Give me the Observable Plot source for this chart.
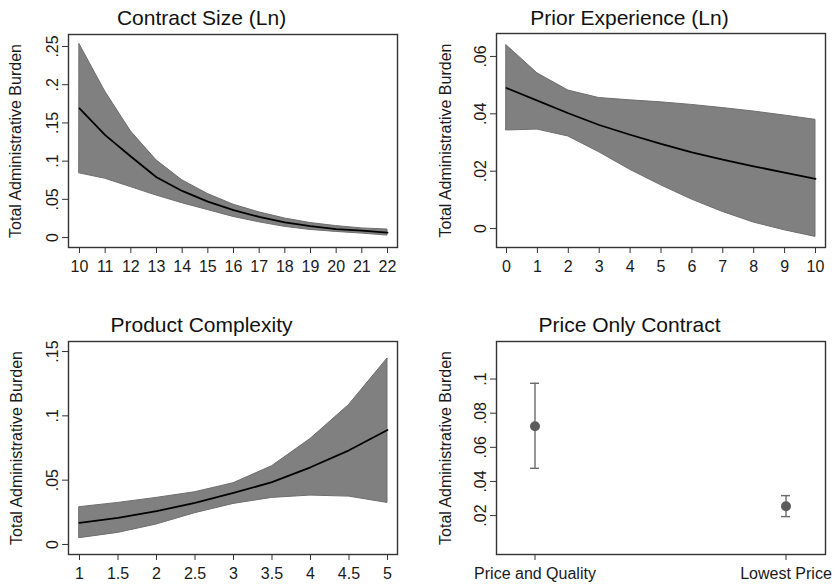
<!DOCTYPE html>
<html>
<head>
<meta charset="utf-8">
<script src="https://cdn.jsdelivr.net/npm/d3@7"></script>
<script src="https://cdn.jsdelivr.net/npm/@observablehq/plot@0.6"></script>
<style>
  html, body { margin: 0; padding: 0; background: #fff; }
  #wrap { position: relative; width: 836px; height: 585px; background: #fff; }
  .panel { position: absolute; }
</style>
</head>
<body>
<div id="wrap"></div>
<script>
// ---------- Data ----------
const yLabel = "Total Administrative Burden";

// Panel 1: Contract Size (Ln)
const sizeTitle = "Contract Size (Ln)";
const sizeX    = [10, 11, 12, 13, 14, 15, 16, 17, 18, 19, 20, 21, 22];
const sizeMean = [0.169, 0.134, 0.106, 0.079, 0.061, 0.047, 0.036, 0.027, 0.020, 0.015, 0.011, 0.009, 0.0065];
const sizeHi   = [0.253, 0.191, 0.139, 0.101, 0.075, 0.057, 0.043, 0.033, 0.025, 0.019, 0.015, 0.012, 0.0105];
const sizeLo   = [0.084, 0.077, 0.066, 0.055, 0.045, 0.036, 0.027, 0.020, 0.014, 0.010, 0.0074, 0.0052, 0.0026];
const sizeYTicks = [0, 0.05, 0.1, 0.15, 0.2, 0.25];
const sizeXTicks = [10, 11, 12, 13, 14, 15, 16, 17, 18, 19, 20, 21, 22];

// Panel 2: Prior Experience (Ln)
const expTitle = "Prior Experience (Ln)";
const expX    = [0, 1, 2, 3, 4, 5, 6, 7, 8, 9, 10];
const expMean = [0.0490, 0.0446, 0.0402, 0.0361, 0.0327, 0.0295, 0.0266, 0.0240, 0.0217, 0.0195, 0.0173];
const expHi   = [0.0639, 0.0541, 0.0481, 0.0455, 0.0447, 0.0440, 0.0431, 0.0420, 0.0408, 0.0394, 0.0379];
const expLo   = [0.0342, 0.0345, 0.0321, 0.0266, 0.0205, 0.0151, 0.0101, 0.0058, 0.0021, -0.0006, -0.0029];
const expYTicks = [0, 0.02, 0.04, 0.06];
const expXTicks = [0, 1, 2, 3, 4, 5, 6, 7, 8, 9, 10];

// Panel 3: Product Complexity
const cplxTitle = "Product Complexity";
const cplxX    = [1, 1.5, 2, 2.5, 3, 3.5, 4, 4.5, 5];
const cplxMean = [0.0168, 0.0207, 0.0259, 0.0323, 0.0401, 0.0484, 0.0600, 0.0732, 0.0890];
const cplxHi   = [0.0290, 0.0323, 0.0362, 0.0406, 0.0476, 0.0608, 0.0820, 0.1084, 0.1446];
const cplxLo   = [0.0049, 0.0090, 0.0155, 0.0243, 0.0315, 0.0362, 0.0380, 0.0372, 0.0323];
const cplxYTicks = [0, 0.05, 0.1, 0.15];
const cplxXTicks = [1, 1.5, 2, 2.5, 3, 3.5, 4, 4.5, 5];

// Panel 4: Price Only Contract
const priceTitle = "Price Only Contract";
const priceCats = ["Price and Quality", "Lowest Price"];
const priceMean = [0.0723, 0.0255];
const priceHi   = [0.0975, 0.0317];
const priceLo   = [0.0477, 0.0194];
const priceYTicks = [0.02, 0.04, 0.06, 0.08, 0.1];

// ---------- Helpers ----------
const FONT = "'Liberation Sans', Arial, Helvetica, sans-serif";
const fmtY = d => d === 0 ? "0" : d3.format(".2~f")(d).replace(/^0\./, ".").replace(/^-0\./, "-.");

function rowsOf(xs, m, lo, hi) {
  return xs.map((x, i) => ({x, m: m[i], lo: lo[i], hi: hi[i]}));
}

function commonMarks(title, yTicks, ylabDx, titleDy) {
  return [
    Plot.frame({stroke: "#333", strokeWidth: 1.4}),
    Plot.axisY({ticks: yTicks, tickFormat: fmtY, tickRotate: -90, tickSize: 6, tickPadding: 5,
                label: null, fontSize: 16, stroke: "#333", fill: "#1a1a1a"}),
    Plot.text([title], {text: d => d, frameAnchor: "top", dx: -31.5, dy: titleDy,
                        textAnchor: "middle", lineAnchor: "middle", fontSize: 21, fill: "#111"}),
    Plot.text([yLabel], {text: d => d, frameAnchor: "left", rotate: -90, dx: ylabDx,
                         textAnchor: "middle", lineAnchor: "middle", fontSize: 16, fill: "#1a1a1a"})
  ];
}

function bandPanel({title, xs, m, lo, hi, xDomain, yDomain, xTicks, yTicks, margins, height, ylabDx, titleDy}) {
  const rows = rowsOf(xs, m, lo, hi);
  return Plot.plot({
    width: 418, height,
    marginTop: margins[0], marginRight: margins[1], marginBottom: margins[2], marginLeft: margins[3],
    style: {fontFamily: FONT, fontSize: "16px", color: "#1a1a1a", background: "#fff", overflow: "visible"},
    x: {domain: xDomain},
    y: {domain: yDomain},
    marks: [
      Plot.areaY(rows, {x: "x", y1: "lo", y2: "hi", fill: "#808080", stroke: "#6e6e6e", strokeWidth: 1}),
      Plot.lineY(rows, {x: "x", y: "m", stroke: "#000", strokeWidth: 1.8}),
      Plot.axisX({ticks: xTicks, tickFormat: d => String(d), tickSize: 6, tickPadding: 7,
                  label: null, fontSize: 16, stroke: "#333", fill: "#1a1a1a"}),
      ...commonMarks(title, yTicks, ylabDx, titleDy)
    ]
  });
}

function pointPanel({title, cats, m, lo, hi, yDomain, yTicks, margins, height, ylabDx, titleDy}) {
  const rows = cats.map((c, i) => ({c, m: m[i], lo: lo[i], hi: hi[i]}));
  return Plot.plot({
    width: 418, height,
    marginTop: margins[0], marginRight: margins[1], marginBottom: margins[2], marginLeft: margins[3],
    style: {fontFamily: FONT, fontSize: "16px", color: "#1a1a1a", background: "#fff", overflow: "visible"},
    x: {type: "band", domain: cats, paddingInner: 0.964, paddingOuter: 0.135},
    y: {domain: yDomain},
    marks: [
      Plot.ruleX(rows, {x: "c", y1: "lo", y2: "hi", stroke: "#6a6a6a", strokeWidth: 1.4}),
      Plot.tickY(rows, {x: "c", y: "hi", stroke: "#6a6a6a", strokeWidth: 1.4}),
      Plot.tickY(rows, {x: "c", y: "lo", stroke: "#6a6a6a", strokeWidth: 1.4}),
      Plot.dot(rows, {x: "c", y: "m", r: 5, fill: "#5c5c5c", stroke: "none"}),
      Plot.axisX({tickSize: 6, tickPadding: 7, label: null, fontSize: 16, stroke: "#333", fill: "#1a1a1a"}),
      ...commonMarks(title, yTicks, ylabDx, titleDy)
    ]
  });
}

// ---------- Build ----------
const wrap = document.getElementById("wrap");
function place(node, left, top) {
  const div = document.createElement("div");
  div.className = "panel";
  div.style.left = left + "px";
  div.style.top = top + "px";
  div.appendChild(node);
  wrap.appendChild(div);
}

place(bandPanel({
  title: sizeTitle, xs: sizeX, m: sizeMean, lo: sizeLo, hi: sizeHi,
  xDomain: [9.571, 22.39], yDomain: [-0.013, 0.2657],
  xTicks: sizeXTicks, yTicks: sizeYTicks,
  margins: [34, 21, 45, 68], height: 292, ylabDx: -53, titleDy: -16
}), 0, 0);

place(bandPanel({
  title: expTitle, xs: expX, m: expMean, lo: expLo, hi: expHi,
  xDomain: [-0.324, 10.324], yDomain: [-0.0066, 0.068],
  xTicks: expXTicks, yTicks: expYTicks,
  margins: [33, 11, 45, 78], height: 292, ylabDx: -51, titleDy: -15
}), 418, 0);

place(bandPanel({
  title: cplxTitle, xs: cplxX, m: cplxMean, lo: cplxLo, hi: cplxHi,
  xDomain: [0.857, 5.13], yDomain: [-0.0078, 0.1578],
  xTicks: cplxXTicks, yTicks: cplxYTicks,
  margins: [49, 21, 31, 68], height: 293, ylabDx: -52, titleDy: -16
}), 0, 292);

place(pointPanel({
  title: priceTitle, cats: priceCats, m: priceMean, lo: priceLo, hi: priceHi,
  yDomain: [-0.0028, 0.122], yTicks: priceYTicks,
  margins: [49, 11, 31, 78], height: 293, ylabDx: -51, titleDy: -16
}), 418, 292);
</script>
</body>
</html>
